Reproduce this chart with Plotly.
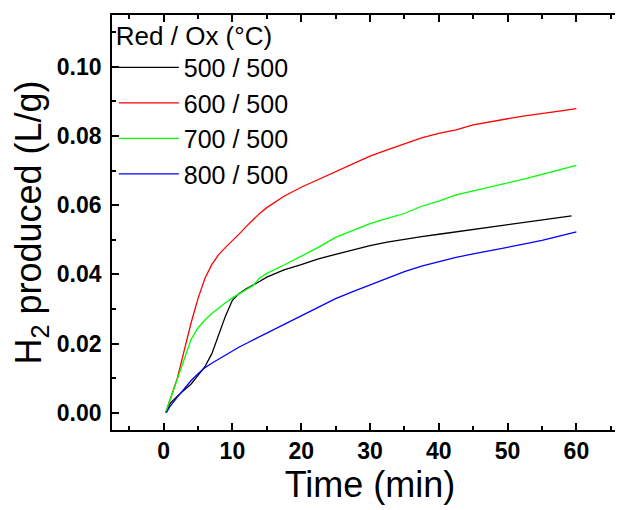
import plotly.graph_objects as go

# ---- data ----
t_500 = [0.3, 1, 2, 3, 4, 5, 6, 7, 8, 9, 10, 11, 12, 13, 14, 15, 17.5, 20, 22.5, 25, 27.5, 30,
         32.5, 35, 37.5, 40, 42.5, 45, 47.5, 50, 52.5, 55, 57.5, 59.3]
h2_500 = [0.000, 0.0028, 0.0048, 0.0065, 0.0083, 0.0108, 0.0133, 0.017, 0.0222, 0.028, 0.0325,
          0.0345, 0.0358, 0.0368, 0.038, 0.0392, 0.0413, 0.0428, 0.0445, 0.0458, 0.0471, 0.0483,
          0.0493, 0.0502, 0.0509, 0.0516, 0.0523, 0.053, 0.0537, 0.0545, 0.0552, 0.0558, 0.0564,
          0.0569]

t_600 = [0.3, 1, 2, 3, 4, 5, 6, 7, 8, 9, 10, 11, 12, 13, 14, 15, 16, 17.5, 20, 22.5, 25, 27.5, 30,
         32.5, 35, 37.5, 40, 42.5, 45, 47.5, 50, 52.5, 55, 57.5, 60]
h2_600 = [0.000, 0.004, 0.010, 0.018, 0.026, 0.033, 0.0388, 0.0428, 0.0457, 0.0478, 0.0497,
          0.0517, 0.0538, 0.0558, 0.0577, 0.0593, 0.0607, 0.0626, 0.0652, 0.0675, 0.0698, 0.072,
          0.0742, 0.076, 0.0777, 0.0795, 0.0808, 0.0818, 0.0832, 0.0842, 0.085, 0.0858, 0.0866,
          0.0872, 0.0879]

t_700 = [0.3, 1, 2, 3, 4, 5, 6, 7, 8, 9, 10, 11, 12, 13, 14, 15, 17.5, 20, 22.5, 25, 27.5, 30,
         32.5, 35, 37.5, 40, 42.5, 45, 47.5, 50, 52.5, 55, 57.5, 60]
h2_700 = [0.000, 0.004, 0.0103, 0.016, 0.0212, 0.0245, 0.0268, 0.0287, 0.0303, 0.0318, 0.0332,
          0.0344, 0.0356, 0.0368, 0.039, 0.0403, 0.0427, 0.0453, 0.0478, 0.0507, 0.0527, 0.0547,
          0.0562, 0.0576, 0.0597, 0.0612, 0.063, 0.0641, 0.0652, 0.0664, 0.0676, 0.0689, 0.0702,
          0.0715]

t_800 = [0.4, 1, 2, 3, 4, 5, 6, 7, 8, 9, 10, 11, 12, 13, 14, 15, 17.5, 20, 22.5, 25, 27.5, 30,
         32.5, 35, 37.5, 40, 42.5, 45, 47.5, 50, 52.5, 55, 57.5, 60]
h2_800 = [0.000, 0.002, 0.0045, 0.007, 0.0093, 0.0113, 0.013, 0.0143, 0.0155, 0.0167, 0.0178,
          0.019, 0.020, 0.021, 0.022, 0.023, 0.0255, 0.0282, 0.0305, 0.033, 0.035, 0.037, 0.039,
          0.0408, 0.0424, 0.0437, 0.0449, 0.0459, 0.0468, 0.0478, 0.0488, 0.0498, 0.051, 0.0523]

series_names = ["500 / 500", "600 / 500", "700 / 500", "800 / 500"]
series_t = [t_500, t_600, t_700, t_800]
series_y = [h2_500, h2_600, h2_700, h2_800]
colors = ["#000000", "#ff0000", "#00ff00", "#0000ff"]

x_ticks = [0, 10, 20, 30, 40, 50, 60]
y_ticks = [0.00, 0.02, 0.04, 0.06, 0.08, 0.10]

FONT = "Liberation Sans, Arial, sans-serif"

fig = go.Figure()
for name, tx, ty, c in zip(series_names, series_t, series_y, colors):
    fig.add_trace(go.Scatter(x=tx, y=ty, mode="lines", name=name,
                             line=dict(color=c, width=1.3)))

axis_common = dict(
    showline=True, linecolor="black", linewidth=1.6, mirror="allticks",
    ticks="inside", ticklen=7, tickwidth=1.5, tickcolor="black",
    showgrid=False, zeroline=False, automargin=False,
    tickfont=dict(family=FONT, size=23, color="black", weight="bold"),
)

fig.update_layout(
    width=623, height=510,
    margin=dict(l=104, r=3, t=4, b=88),
    paper_bgcolor="white", plot_bgcolor="white",
    xaxis=dict(range=[-7.5, 67.5], tickvals=x_ticks, ticktext=[str(v) for v in x_ticks],
               minor=dict(dtick=5, tick0=0, ticks="inside", ticklen=4, tickwidth=1.5,
                          tickcolor="black"),
               title=dict(text="Time (min)", font=dict(family=FONT, size=36, color="black"),
                          standoff=8),
               **axis_common),
    yaxis=dict(range=[-0.005, 0.115], tickvals=y_ticks, ticktext=[f"{v:.2f}" for v in y_ticks],
               minor=dict(dtick=0.01, tick0=0, ticks="inside", ticklen=4, tickwidth=1.5,
                          tickcolor="black"),
               ticklabelstandoff=4,
               title=dict(text="H<sub>2</sub> produced (L/g)",
                          font=dict(family=FONT, size=36, color="black"), standoff=8),
               **axis_common),
    legend=dict(x=0.0035, y=1.010, xanchor="left", yanchor="top",
                bgcolor="rgba(0,0,0,0)", borderwidth=0,
                font=dict(family=FONT, size=25, color="black"),
                title=dict(text="Red / Ox (°C)", font=dict(family=FONT, size=26, color="black")),
                itemwidth=60, tracegroupgap=0),
)

fig.write_html("out.html")
